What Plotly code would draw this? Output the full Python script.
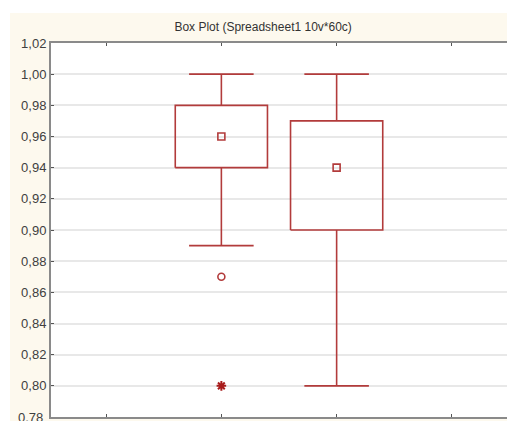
import plotly.graph_objects as go

# ---- data ----
categories = ["Var1", "Var2"]
positions = [2, 3]
q1 = [0.94, 0.90]
median = [0.96, 0.94]
q3 = [0.98, 0.97]
whisker_low = [0.89, 0.80]
whisker_high = [1.00, 1.00]
outlier_x = [2]
outlier_y = [0.87]
extreme_x = [2]
extreme_y = [0.80]
y_ticks = [0.78, 0.80, 0.82, 0.84, 0.86, 0.88, 0.90, 0.92, 0.94, 0.96, 0.98, 1.00, 1.02]
x_ticks = [1, 2, 3, 4]

BOX_W = 0.8
CAP_W = 0.56
RED = "#b23b3b"

box_x, box_y = [], []
wh_x, wh_y = [], []
for p, a, b, lo, hi in zip(positions, q1, q3, whisker_low, whisker_high):
    l, r = p - BOX_W / 2, p + BOX_W / 2
    box_x += [l, r, r, l, l, None]
    box_y += [a, a, b, b, a, None]
    cl, cr = p - CAP_W / 2, p + CAP_W / 2
    wh_x += [p, p, None, p, p, None, cl, cr, None, cl, cr, None]
    wh_y += [b, hi, None, a, lo, None, hi, hi, None, lo, lo, None]

fig = go.Figure()
fig.add_trace(go.Scatter(x=wh_x, y=wh_y, mode="lines", line=dict(color=RED, width=1.6),
                         hoverinfo="skip", showlegend=False))
fig.add_trace(go.Scatter(x=box_x, y=box_y, mode="lines", line=dict(color=RED, width=1.6),
                         hoverinfo="skip", showlegend=False))
fig.add_trace(go.Scatter(x=positions, y=median, mode="markers", text=categories,
                         marker=dict(symbol="square-open", size=7, color=RED, line=dict(width=1.6)),
                         showlegend=False))
fig.add_trace(go.Scatter(x=outlier_x, y=outlier_y, mode="markers",
                         marker=dict(symbol="circle-open", size=7, color=RED, line=dict(width=1.6)),
                         showlegend=False))
fig.add_trace(go.Scatter(x=extreme_x, y=extreme_y, mode="markers",
                         marker=dict(symbol="asterisk-open", size=8, color="#a81c1c", line=dict(width=2)),
                         showlegend=False))

axis_common = dict(showline=True, linecolor="#8a8a8a", linewidth=2,
                   ticks="inside", ticklen=3, tickcolor="#555555", tickwidth=1, zeroline=False)

# bottom tick label (cut off by the page edge in the reference), placed via the y scale
bottom_label = dict(x=0, xref="paper", xanchor="right", xshift=-6, y=y_ticks[0], yref="y",
                    yanchor="middle", text=f"{y_ticks[0]:.2f}".replace(".", ","), showarrow=False,
                    font=dict(size=13, color="#404040"))

fig.update_layout(
    width=507, height=421,
    margin=dict(l=51, r=0, t=43, b=4),
    paper_bgcolor="white", plot_bgcolor="white",
    separators=", ",
    font=dict(family="Liberation Sans, Arial, sans-serif", color="#404040"),
    title=dict(text="Box Plot (Spreadsheet1 10v*60c)", x=0.519, xref="container", xanchor="center",
               y=1 - 27 / 421, yref="container", yanchor="middle",
               font=dict(size=12, color="#333333")),
    xaxis=dict(range=[0.522, 4.478], tickvals=x_ticks, showticklabels=False, showgrid=False,
               mirror="ticks", **axis_common),
    yaxis=dict(range=[0.78, 1.02], tickvals=y_ticks, tickformat=".2f", showgrid=True,
               gridcolor="#e8e8e8", gridwidth=1.5, tickfont=dict(size=13, color="#404040"),
               mirror=False, **axis_common),
    annotations=[bottom_label],
    shapes=[
        dict(type="rect", xref="paper", yref="paper", x0=-0.0899, x1=1.05, y0=-0.05, y1=1.0802,
             fillcolor="#fdf9ee", line=dict(width=0), layer="below"),
        dict(type="rect", xref="paper", yref="paper", x0=0, x1=1, y0=0, y1=1,
             fillcolor="white", line=dict(width=0), layer="below"),
    ],
)

fig.write_html("out.html")
